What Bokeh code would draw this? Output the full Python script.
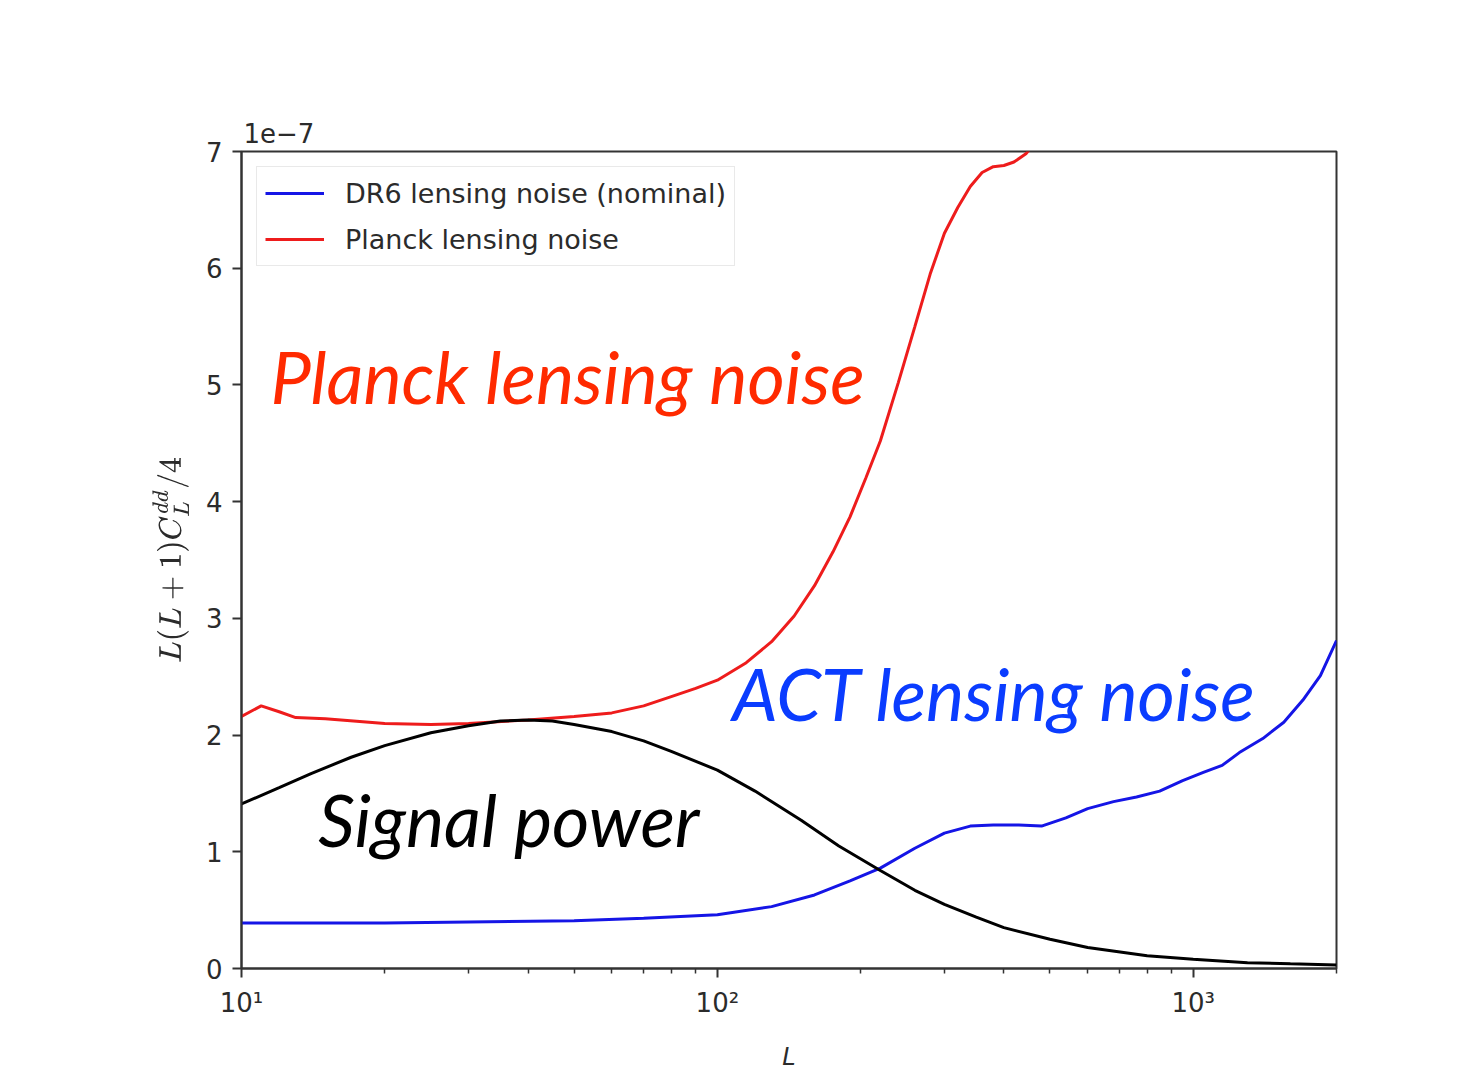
import numpy as np
from bokeh.plotting import figure
from bokeh.models import (Label, FixedTicker, Legend, LegendItem, Range1d)
from bokeh.embed import file_html
from bokeh.resources import INLINE

# ---------------- data (y in units of 1e-7) ----------------
L_dr6 = [10, 20, 50, 70, 100, 130, 160, 190, 220, 260, 300, 340, 380, 430, 480,
         540, 600, 680, 760, 850, 950, 1050, 1150, 1250, 1400, 1550, 1700, 1850, 2000]
N_dr6 = [0.39, 0.39, 0.41, 0.43, 0.46, 0.53, 0.63, 0.75, 0.86, 1.03, 1.16, 1.22, 1.23,
         1.23, 1.22, 1.29, 1.37, 1.43, 1.47, 1.52, 1.61, 1.68, 1.74, 1.85, 1.97, 2.11,
         2.30, 2.51, 2.81]

L_planck = [10, 11, 12, 13, 15, 20, 25, 30, 40, 50, 60, 70, 80, 90, 100, 115, 130,
            145, 160, 175, 190, 205, 220, 240, 260, 280, 300, 320, 340, 360, 380,
            400, 420, 445, 470, 520]
N_planck = [2.16, 2.25, 2.20, 2.15, 2.14, 2.10, 2.09, 2.10, 2.13, 2.16, 2.19, 2.25,
            2.33, 2.40, 2.47, 2.62, 2.80, 3.02, 3.28, 3.57, 3.87, 4.20, 4.52, 5.02,
            5.50, 5.95, 6.30, 6.52, 6.70, 6.82, 6.87, 6.88, 6.91, 6.98, 7.10, 7.30]

L_signal = [10, 12, 14, 17, 20, 25, 30, 35, 40, 45, 50, 60, 70, 80, 100, 120, 150,
            180, 220, 260, 300, 350, 400, 500, 600, 800, 1000, 1300, 1600, 2000]
C_signal = [1.41, 1.55, 1.67, 1.81, 1.91, 2.02, 2.08, 2.12, 2.13, 2.12, 2.09, 2.03,
            1.95, 1.86, 1.70, 1.52, 1.27, 1.05, 0.84, 0.67, 0.55, 0.44, 0.35, 0.25,
            0.18, 0.11, 0.08, 0.05, 0.04, 0.03]

series_names = ["DR6 lensing noise (nominal)", "Planck lensing noise"]
x_major_ticks = [10, 100, 1000]
x_major_labels = ["10¹", "10²", "10³"]
x_minor_ticks = [20, 30, 40, 50, 60, 70, 80, 90, 200, 300, 400, 500, 600, 700, 800,
                 900, 2000]
y_ticks = [0, 1, 2, 3, 4, 5, 6, 7]
y_scale_text = "1e\u22127"
x_label = "L"
y_label = r"$$L(L+1)C_L^{dd}/4$$"
annot_texts = ["Planck lensing noise", "ACT lensing noise", "Signal power"]

# ---------------- figure ----------------
p = figure(width=1480, height=1083, x_axis_type="log",
           x_range=Range1d(10, 2000), y_range=Range1d(0, 7),
           output_backend="svg", toolbar_location=None,
           min_border_left=241, min_border_right=144,
           min_border_top=151, min_border_bottom=115,
           background_fill_color="white", border_fill_color="white")

# "1e-7" offset text, drawn as a left-aligned title just above the frame
p.title.text = y_scale_text
p.title.align = "left"
p.title.offset = 2
p.title.standoff = 17
p.title.text_font = "DejaVu Sans"
p.title.text_font_size = "26px"
p.title.text_font_style = "normal"
p.title.text_color = "#2b2b2b"

p.xgrid.visible = False
p.ygrid.visible = False
p.outline_line_color = "#333333"
p.outline_line_width = 2
p.outline_line_alpha = 1

# axes
p.xaxis.ticker = FixedTicker(ticks=x_major_ticks, minor_ticks=x_minor_ticks)
p.xaxis.major_label_overrides = {t: s for t, s in zip(x_major_ticks, x_major_labels)}
p.yaxis.ticker = FixedTicker(ticks=y_ticks)
for ax in (p.xaxis[0], p.yaxis[0]):
    ax.axis_line_color = "#333333"
    ax.axis_line_width = 2
    ax.major_tick_line_color = "#333333"
    ax.major_tick_line_width = 2
    ax.minor_tick_line_color = "#333333"
    ax.minor_tick_line_width = 1.5
    ax.major_tick_out = 9
    ax.major_tick_in = 0
    ax.minor_tick_out = 5
    ax.minor_tick_in = 0
    ax.major_label_text_font = "DejaVu Sans"
    ax.major_label_text_font_size = "26px"
    ax.major_label_text_color = "#2b2b2b"
    ax.major_label_standoff = 10
    ax.axis_label_text_font = "DejaVu Sans"
    ax.axis_label_text_font_size = "24px"
    ax.axis_label_text_font_style = "italic"
    ax.axis_label_text_color = "#2b2b2b"
p.yaxis.minor_tick_line_color = None
p.xaxis.axis_label = x_label
p.xaxis.axis_label_standoff = 22
p.yaxis.axis_label = y_label
p.yaxis.axis_label_standoff = 14

# lines
r_dr6 = p.line(L_dr6, N_dr6, line_color="#1515e6", line_width=3)
r_planck = p.line(L_planck, N_planck, line_color="#ee1c1c", line_width=3)
p.line(L_signal, C_signal, line_color="black", line_width=3)

legend = Legend(items=[LegendItem(label=series_names[0], renderers=[r_dr6]),
                       LegendItem(label=series_names[1], renderers=[r_planck])],
                location="top_left", margin=15, padding=8, spacing=10,
                glyph_width=59, glyph_height=36, label_standoff=21,
                label_text_font="DejaVu Sans", label_text_font_size="27px",
                label_text_color="#2b2b2b",
                border_line_color="#d4d4d4", border_line_width=1.5,
                background_fill_color="white", background_fill_alpha=0.9)
p.add_layout(legend)

# slide annotations (large italic captions)
annot_x = [11.5, 107.5, 14.5]
annot_y = [5.08, 2.36, 1.28]
annot_colors = ["#ff2a00", "#0a3cff", "black"]
for t, ax_, ay_, c in zip(annot_texts, annot_x, annot_y, annot_colors):
    p.add_layout(Label(x=ax_, y=ay_, text=t, text_font="Lato",
                       text_font_style="italic", text_font_size="72px",
                       text_color=c, text_baseline="alphabetic"))

open("out.html", "w").write(file_html(p, INLINE))
